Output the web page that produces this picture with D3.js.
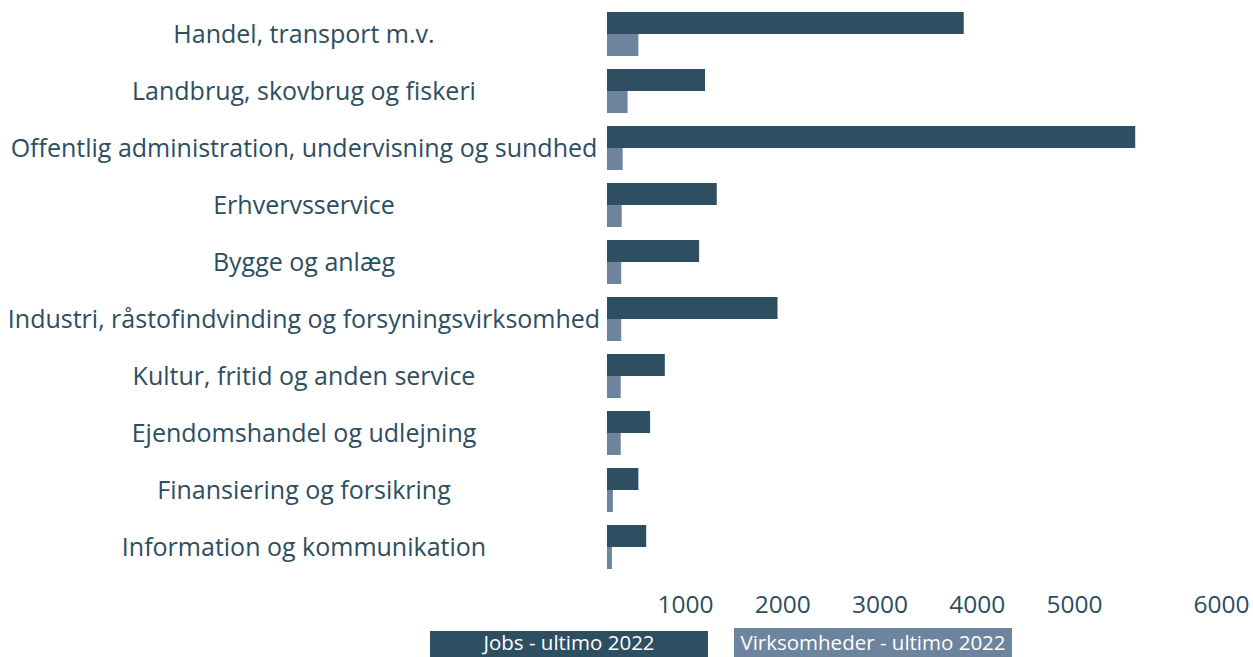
<!DOCTYPE html>
<html>
<head>
<meta charset="utf-8">
<script src="https://cdn.jsdelivr.net/npm/d3@7"></script>
<style>
  body { margin: 0; background: #fff; }
  text { font-family: "Open Sans", sans-serif; }
</style>
</head>
<body>
<div id="canvas"></div>
<script>
"use strict"

/* Data: brancher, jobs og virksomheder ultimo 2022 */
let categories = [
    "Handel, transport m.v.",
    "Landbrug, skovbrug og fiskeri",
    "Offentlig administration, undervisning og sundhed",
    "Erhvervsservice",
    "Bygge og anlæg",
    "Industri, råstofindvinding og forsyningsvirksomhed",
    "Kultur, fritid og anden service",
    "Ejendomshandel og udlejning",
    "Finansiering og forsikring",
    "Information og kommunikation"
];
let jobs = [3640, 1000, 5390, 1120, 940, 1740, 590, 440, 320, 400];
let virksomheder = [320, 210, 160, 150, 145, 145, 140, 140, 60, 50];
let seriesNames = ["Jobs - ultimo 2022", "Virksomheder - ultimo 2022"];
let tickValues = [1000, 2000, 3000, 4000, 5000, 6000];

/* Drawing config */
let svgWidth = 1253;
let svgHeight = 657;
let darkColor = "#2e4f62";
let lightColor = "#6d849e";
let textColor = "#2d4e61";

let svg = d3.select("#canvas")
    .append("svg")
    .attr("width", svgWidth)
    .attr("height", svgHeight);

/* Scales */
let xScale = d3.scaleLinear()
    .domain([0, 6000])
    .range([607, 1195]);

let yScale = d3.scaleBand()
    .domain(categories)
    .range([12, 569])
    .paddingInner(0.228)
    .paddingOuter(0);

let half = yScale.bandwidth() / 2;

// Tick labels in the original sit unevenly along the axis
let tickScale = d3.scaleLinear()
    .domain([1000, 5000, 6000])
    .range([685, 1074, 1221]);

/* Bars */
svg.selectAll("rect.jobs")
    .data(categories)
    .join("rect")
    .attr("class", "jobs")
    .attr("x", xScale(0))
    .attr("y", d => yScale(d))
    .attr("width", (d, i) => xScale(jobs[i]) - xScale(0))
    .attr("height", half)
    .attr("fill", darkColor);

svg.selectAll("rect.virk")
    .data(categories)
    .join("rect")
    .attr("class", "virk")
    .attr("x", xScale(0))
    .attr("y", d => yScale(d) + half)
    .attr("width", (d, i) => xScale(virksomheder[i]) - xScale(0))
    .attr("height", half)
    .attr("fill", lightColor);

/* Category labels */
svg.selectAll("text.cat")
    .data(categories)
    .join("text")
    .attr("class", "cat")
    .attr("x", 304)
    .attr("y", d => yScale(d) + half)
    .attr("dy", "0.35em")
    .attr("text-anchor", "middle")
    .attr("fill", textColor)
    .style("font-size", "25px")
    .text(d => d);

/* X axis tick labels */
let xAxis = svg.append("g")
    .attr("transform", "translate(0,596)")
    .call(d3.axisBottom(tickScale).tickValues(tickValues).tickSize(0).tickFormat(d3.format("d")));
xAxis.select(".domain").remove();
xAxis.selectAll("text")
    .attr("fill", textColor)
    .attr("dy", "0.71em")
    .attr("y", 0)
    .style("font-family", "'Open Sans', sans-serif")
    .style("font-size", "24.5px");

/* Legend */
let legend = svg.append("g");
let legendX = [430, 734];
let legendColors = [darkColor, lightColor];

legend.selectAll("rect")
    .data(seriesNames)
    .join("rect")
    .attr("x", (d, i) => legendX[i])
    .attr("y", (d, i) => i == 0 ? 631 : 628)
    .attr("width", 278)
    .attr("height", 30)
    .attr("fill", (d, i) => legendColors[i]);

legend.selectAll("text")
    .data(seriesNames)
    .join("text")
    .attr("x", (d, i) => legendX[i] + 139)
    .attr("y", 650)
    .attr("text-anchor", "middle")
    .attr("fill", "#fff")
    .style("font-size", "20.5px")
    .text(d => d);
</script>
</body>
</html>
